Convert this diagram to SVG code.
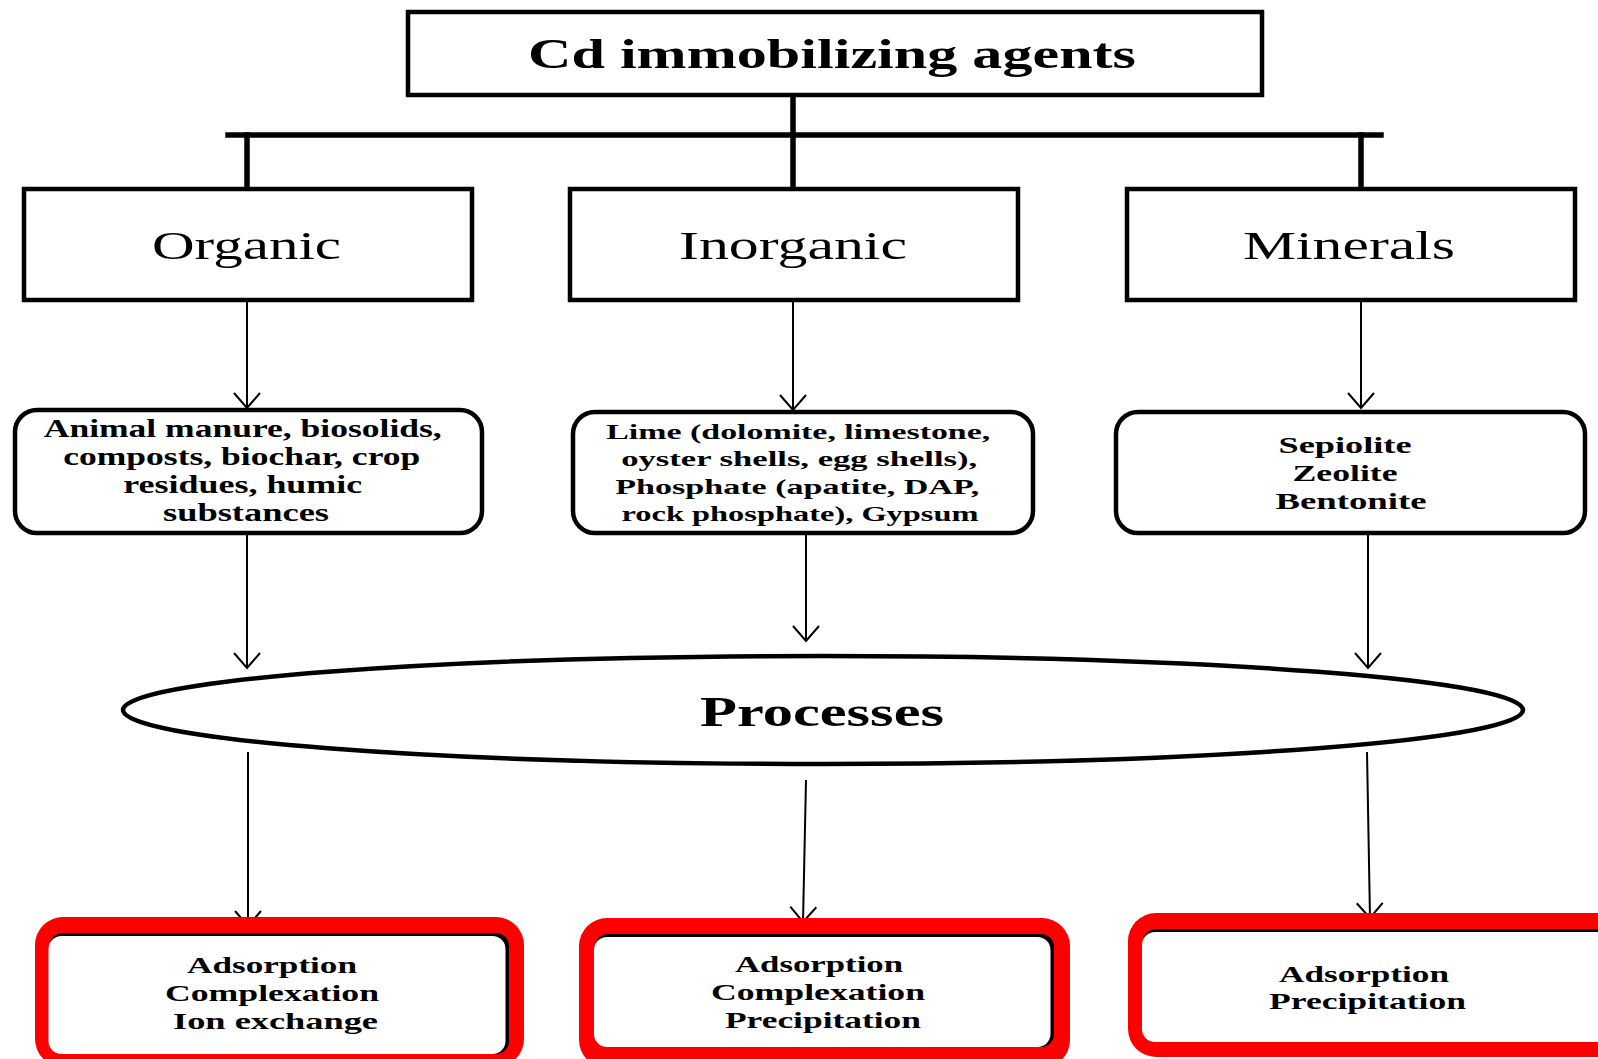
<svg xmlns="http://www.w3.org/2000/svg" width="1598" height="1059" viewBox="0 0 1598 1059">
<style>
.box{fill:#fff;stroke:#000;stroke-width:4.5}
.thick{stroke:#000;stroke-width:5.5;fill:none;stroke-linecap:square}
.arr{stroke:#000;stroke-width:2;fill:none}
.t{font-family:"Liberation Serif","Times New Roman",serif;fill:#000;text-anchor:middle}
.b{font-weight:bold}
.red{fill:#ff0000}
.inner{fill:#000}
.innerw{fill:#fff}
</style>
<defs>
<marker id="ah" markerUnits="userSpaceOnUse" markerWidth="30" markerHeight="20" viewBox="-15 -18 30 20" refX="0" refY="0" orient="auto-start-reverse" overflow="visible">
<path d="M-13,-15 L0,0 L13,-15" fill="none" stroke="#000" stroke-width="2" transform="rotate(-90)"/>
</marker>
</defs>
<rect width="1598" height="1059" fill="#fff"/>
<g id="connectors">
<line class="thick" x1="228" y1="135" x2="1381" y2="135"/>
<line class="thick" x1="793" y1="95" x2="793" y2="189"/>
<line class="thick" x1="247" y1="135" x2="247" y2="189"/>
<line class="thick" x1="1361" y1="135" x2="1361" y2="189"/>
<line class="arr" x1="247" y1="300" x2="247" y2="408" marker-end="url(#ah)"/>
<line class="arr" x1="793" y1="300" x2="793" y2="410" marker-end="url(#ah)"/>
<line class="arr" x1="1361" y1="300" x2="1361" y2="408" marker-end="url(#ah)"/>
<line class="arr" x1="247" y1="534" x2="247" y2="668" marker-end="url(#ah)"/>
<line class="arr" x1="806" y1="533" x2="806" y2="641" marker-end="url(#ah)"/>
<line class="arr" x1="1368" y1="534" x2="1368" y2="668" marker-end="url(#ah)"/>
<line class="arr" x1="248" y1="752" x2="248" y2="926" marker-end="url(#ah)"/>
<line class="arr" x1="806" y1="780" x2="803" y2="922" marker-end="url(#ah)"/>
<line class="arr" x1="1367" y1="752" x2="1370" y2="918" marker-end="url(#ah)"/>
</g>
<g id="title">
<rect class="box" x="408" y="12" width="854" height="83"/>
<text class="t b" x="832" y="68" font-size="42" textLength="608" lengthAdjust="spacingAndGlyphs">Cd immobilizing agents</text>
</g>
<g id="organic">
<rect class="box" x="24" y="189" width="448" height="111"/>
<text class="t" x="246.5" y="259" font-size="41" textLength="189" lengthAdjust="spacingAndGlyphs">Organic</text>
</g>
<g id="inorganic">
<rect class="box" x="570" y="189" width="448" height="111"/>
<text class="t" x="793" y="259" font-size="41" textLength="228" lengthAdjust="spacingAndGlyphs">Inorganic</text>
</g>
<g id="minerals">
<rect class="box" x="1127" y="189" width="448" height="111"/>
<text class="t" x="1349" y="259" font-size="41" textLength="212" lengthAdjust="spacingAndGlyphs">Minerals</text>
</g>
<g id="organic-agents">
<rect class="box" x="15" y="410" width="467" height="123" rx="22"/>
<text class="t b" font-size="26">
<tspan x="246" y="437" textLength="398" lengthAdjust="spacingAndGlyphs">Animal manure, biosolids,</tspan>
<tspan x="245" y="465" textLength="357" lengthAdjust="spacingAndGlyphs">composts, biochar, crop</tspan>
<tspan x="246" y="493" textLength="239" lengthAdjust="spacingAndGlyphs">residues, humic</tspan>
<tspan x="246" y="521" textLength="166" lengthAdjust="spacingAndGlyphs">substances</tspan>
</text>
</g>
<g id="inorganic-agents">
<rect class="box" x="573" y="412" width="460" height="121" rx="22"/>
<text class="t b" font-size="22">
<tspan x="801" y="439" textLength="384" lengthAdjust="spacingAndGlyphs">Lime (dolomite, limestone,</tspan>
<tspan x="802" y="466" textLength="356" lengthAdjust="spacingAndGlyphs">oyster shells, egg shells),</tspan>
<tspan x="800" y="494" textLength="364" lengthAdjust="spacingAndGlyphs">Phosphate (apatite, DAP,</tspan>
<tspan x="800" y="521" textLength="357" lengthAdjust="spacingAndGlyphs">rock phosphate), Gypsum</tspan>
</text>
</g>
<g id="mineral-agents">
<rect class="box" x="1116" y="412" width="469" height="121" rx="22"/>
<text class="t b" font-size="24">
<tspan x="1348" y="453" textLength="133" lengthAdjust="spacingAndGlyphs">Sepiolite</tspan>
<tspan x="1348" y="481" textLength="105" lengthAdjust="spacingAndGlyphs">Zeolite</tspan>
<tspan x="1351" y="509" textLength="151" lengthAdjust="spacingAndGlyphs">Bentonite</tspan>
</text>
</g>
<g id="processes">
<ellipse cx="823" cy="710" rx="700" ry="54" fill="#fff" stroke="#000" stroke-width="4.5"/>
<text class="t b" x="822" y="726" font-size="42" textLength="244" lengthAdjust="spacingAndGlyphs">Processes</text>
</g>
<g id="organic-processes">
<rect class="red" x="35" y="917" width="489" height="150" rx="28"/>
<rect class="inner" x="49.5" y="933" width="459.5" height="121" rx="13"/>
<rect class="innerw" x="48.5" y="936" width="457" height="118" rx="13"/>
<text class="t b" font-size="24">
<tspan x="275" y="973" textLength="170" lengthAdjust="spacingAndGlyphs">Adsorption</tspan>
<tspan x="275" y="1001" textLength="214" lengthAdjust="spacingAndGlyphs">Complexation</tspan>
<tspan x="275.5" y="1029" textLength="205" lengthAdjust="spacingAndGlyphs">Ion exchange</tspan>
</text>
</g>
<g id="inorganic-processes">
<rect class="red" x="579" y="918" width="491" height="150" rx="28"/>
<rect class="inner" x="595" y="934" width="459" height="113" rx="13"/>
<rect class="innerw" x="594" y="937" width="456.5" height="110" rx="13"/>
<text class="t b" font-size="24">
<tspan x="822" y="972" textLength="168" lengthAdjust="spacingAndGlyphs">Adsorption</tspan>
<tspan x="821" y="1000" textLength="214" lengthAdjust="spacingAndGlyphs">Complexation</tspan>
<tspan x="823" y="1028" textLength="196" lengthAdjust="spacingAndGlyphs">Precipitation</tspan>
</text>
</g>
<g id="mineral-processes">
<rect class="red" x="1128" y="913" width="500" height="144" rx="28"/>
<rect class="inner" x="1143" y="929" width="470" height="113" rx="13"/>
<rect class="innerw" x="1142" y="932" width="470" height="110" rx="13"/>
<text class="t b" font-size="24">
<tspan x="1367" y="982" textLength="170" lengthAdjust="spacingAndGlyphs">Adsorption</tspan>
<tspan x="1367.5" y="1009" textLength="197" lengthAdjust="spacingAndGlyphs">Precipitation</tspan>
</text>
</g>
</svg>
